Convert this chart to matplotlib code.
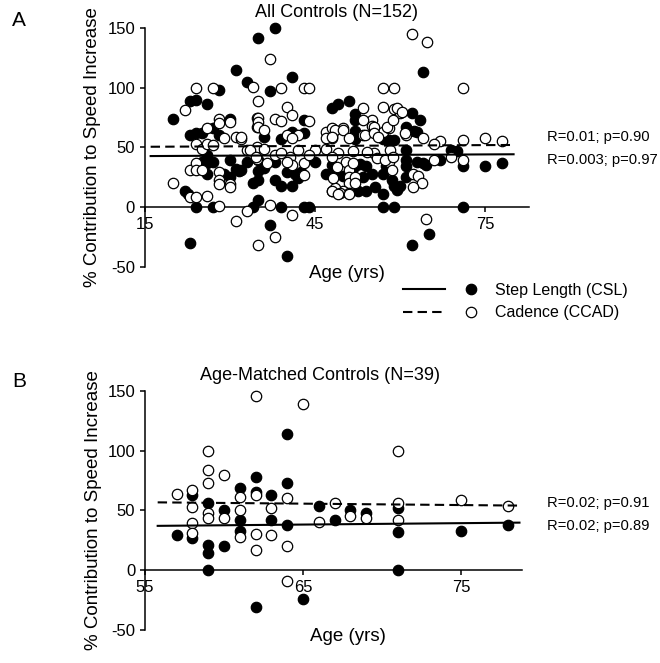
import numpy as np
import matplotlib
matplotlib.use("Agg")
import matplotlib.pyplot as plt
from matplotlib.lines import Line2D
from matplotlib.legend_handler import HandlerTuple

plt.rcParams['font.family'] = ['Liberation Sans', 'DejaVu Sans']
plt.rcParams['axes.unicode_minus'] = False

# ---- panel A: all controls (age, % contribution) ----
a_csl = [(20, 74), (22, 13), (22.5, 11), (23, 89), (23, 60), (23, -30), (24, 90), (24, 62), (24, 0),
         (25, 62), (25, 38), (26, 86), (26, 44), (26, 37), (26, 28), (27, 66), (27, 38), (27, 0),
         (28, 98), (28, 60), (29, 28), (30, 74), (30, 39), (30, 25), (31, 115), (31, 32), (31.5, 30),
         (32, 31), (33, 105), (33, 38), (34, 20), (34, 0), (35, 142), (35, 6), (35, 23), (35, 39),
         (35, 30), (36, 59), (36, 33), (37, 97), (37, -15), (38, 150), (38, 38), (38, 23), (39, 57),
         (39, 18), (39, 0), (40, 29), (40, -41), (41, 109), (41, 63), (41, 18), (41.5, 28), (42, 24),
         (42.5, 29), (43, 62), (43, 73), (43, 0), (44, 0), (45, 38), (47, 28), (48, 83), (48, 60),
         (48, 35), (48.5, 28), (49, 86), (50, 26), (51, 89), (51.5, 35), (51.5, 31), (52, 78), (52, 73),
         (52, 64), (52, 57), (52, 34), (52.5, 13), (53, 36), (53.5, 25), (54, 34), (54, 13), (55, 28),
         (55.5, 17), (57, 57), (57, 28), (57, 11), (57, 0), (57.5, 34), (58, 56), (58.5, 23), (59, 56),
         (59, 18), (59, 0), (59.5, 14), (60, 18), (61, 67), (61, 48), (61, 39), (61, 34), (61, 25),
         (62, 79), (62, -32), (62.5, 64), (63, 63), (63, 38), (63.5, 73), (64, 113), (64, 37),
         (64.5, 35), (65, -23), (67, 39), (69, 48), (70, 47), (71, 34), (71, 0), (75, 34), (78, 37)]
a_ccad = [(20, 20), (22, 81), (23, 31), (23, 8.5), (24, 100), (24, 53), (24, 37), (24, 31), (24, 8.5),
          (25, 31), (25, 49), (26, 66), (26, 53), (26, 9), (27, 100), (27, 52), (28, 74), (28, 70),
          (28, 29), (28, 22.5), (28, 19), (28, 1), (29, 57.5), (30, 71), (30, 19), (31, 59), (31, -11.5),
          (30, 17), (32, 57), (33, 48), (34.7, 40), (34.7, 50), (34.7, 75), (34.7, 67),
          (37, 124), (34, 101), (39, 100), (43, 100), (44, 100), (35, 89), (40, 84), (35, 75), (35, 71),
          (35, 67), (38, 73.5), (39, 72), (41, 77), (44, 72), (36, 64.5), (32, 59), (40, 60), (42, 60),
          (41, 57.5), (47, 63), (48, 66), (48, 57.5), (47, 57.5), (33.5, 48), (34.5, 41.5), (36.5, 36.5),
          (40.5, 42), (43, 36.5), (45, 48), (47, 49), (41, 35), (43, 27), (48, 13), (37, 1.6), (33, -3),
          (41, -6.5), (38, -25), (35, -32), (38, 44), (39, 45), (42, 48), (44, 44), (36, 49), (40, 38),
          (62, 145), (64.7, 138), (57, 100), (59, 100), (53.5, 83), (57, 84), (59, 82), (60, 79),
          (55, 73), (55, 68), (55.3, 64), (50, 66), (53.5, 73), (57, 63), (58, 66), (61, 60), (64, 58),
          (53.5, 60), (49, 45), (55.3, 45), (58, 38), (58.5, 31), (62.3, 28), (63.2, 26), (63.8, 20),
          (62.3, 17), (51.7, 47), (50.5, 38), (51, 31), (51, 25), (51, 20), (50, 13), (51, 11.5),
          (48.5, 15.6), (49.4, 11.5), (48.2, 24), (64.5, -10),
          (48.5, 64.5), (47.9, 58.9), (50, 64.5), (50.9, 57.5), (53.8, 60.3), (55.3, 67), (55.3, 61.7),
          (56.1, 59), (57.6, 67), (58.8, 72.6), (59.4, 82.6), (60.3, 79.8), (60.9, 61.7), (58.2, 47.7),
          (47.9, 42.2), (48.8, 33.8), (51.7, 36.6), (52, 25.4), (52, 19.8), (54.1, 46.4), (55.9, 40.8),
          (57.3, 39.4), (58.8, 42.2), (47.9, 13.6), (49.1, 10.8), (50.9, 10.8),
          (71, 100), (67, 55.5), (71, 56), (75, 58), (78, 55), (66, 39), (69, 41.5), (71, 39), (66, 53)]

# fitted lines
a_fit_x = [16, 80]
a_fit_csl = [42.7, 44.2]
a_fit_ccad = [50.5, 52.0]

# ---- panel B: age-matched controls ----
b_csl = [(57, 29), (58, 63), (58, 27), (59, 56), (59, 21), (59, 14), (59, 0), (60, 50), (60, 20),
         (61, 69), (61, 42), (61, 33), (62, 78), (62, 65), (62, -31), (63, 63), (63, 42), (64, 114),
         (64, 73), (64, 38), (65, -24), (66, 54), (67, 42), (68, 50), (69, 48), (71, 52), (71, 32),
         (71, 0), (75, 33), (78, 38)]
b_ccad = [(57, 64), (58, 67), (58, 53), (58, 39), (58, 31), (59, 100), (59, 84), (59, 73), (59, 48),
          (59, 44), (60, 80), (60, 44), (61, 61), (61, 50), (61, 28), (62, 146), (62, 63), (62, 30),
          (62, 17), (63, 52), (63, 29), (64, 60), (64, 20), (64, -9), (65, 139), (66, 40), (67, 56),
          (68, 45), (69, 44), (71, 100), (71, 56), (71, 42), (75, 59), (78, 54)]
b_fit_x = [55.8, 78.7]
b_fit_csl = [37.0, 39.7]
b_fit_ccad = [56.7, 54.0]

yticks = [-50, 0, 50, 100, 150]
ms = 7.5
dash = (0, (4.5, 2.5))

fig = plt.figure(figsize=(6.6, 6.63), dpi=100)


def panel(rect, xlim, xticks, csl, ccad, fx, fcsl, fccad, title, tx, stats):
    ax = fig.add_axes(rect)
    ax.set_xlim(*xlim)
    ax.set_ylim(-55, 155)
    c = np.array(csl)
    o = np.array(ccad)
    ax.plot(c[:, 0], c[:, 1], 'o', ms=ms, mfc='k', mec='k', mew=0.9, zorder=2, clip_on=False)
    ax.plot(o[:, 0], o[:, 1], 'o', ms=ms, mfc='white', mec='k', mew=0.9, zorder=3, clip_on=False)
    ax.plot(fx, fcsl, color='k', lw=1.5, zorder=4)
    ax.plot(fx, fccad, color='k', lw=1.5, ls=dash, zorder=4)

    for s in ('top', 'right'):
        ax.spines[s].set_visible(False)
    ax.spines['left'].set_position(('data', xticks[0]))
    ax.spines['left'].set_bounds(-50, 150)
    ax.spines['bottom'].set_position(('data', 0))
    ax.spines['bottom'].set_bounds(xticks[0], xlim[1] - 0.6 * (xlim[1] - xticks[-1]) / 2)
    for s in ('left', 'bottom'):
        ax.spines[s].set_linewidth(1.1)
    ax.set_xticks(xticks)
    ax.set_yticks(yticks)
    ax.tick_params(direction='out', length=3.6, width=1.1, labelsize=12)
    ax.set_ylabel('% Contribution to Speed Increase', fontsize=13.5)
    ax.yaxis.set_label_coords(-0.095, 0.5)
    ax.text(0.509, -0.002, 'Age (yrs)', transform=ax.transAxes, fontsize=13.5,
            ha='center', va='center')
    ax.text(tx, 1.04, title, transform=ax.transAxes, fontsize=13, ha='center', va='center')
    for yv, s in stats:
        ax.text(xlim[1] - 0.15 * (xlim[1] - xlim[0]) / 72, yv, s, fontsize=10.6,
                ha='left', va='center', clip_on=False)
    return ax


axA = panel([139.3 / 660, (663 - 272.6) / 663, 408.3 / 660, 250.5 / 663], (14, 86), [15, 45, 75],
            a_csl, a_ccad, a_fit_x, a_fit_csl, a_fit_ccad, 'All Controls (N=152)', 0.482,
            [(58.7, 'R=0.01; p=0.90'), (39.4, 'R=0.003; p=0.97')])
axB = panel([140.3 / 660, (663 - 635.6) / 663, 407.6 / 660, 250.5 / 663], (54.7, 80.5), [55, 65, 75],
            b_csl, b_ccad, b_fit_x, b_fit_csl, b_fit_ccad, 'Age-Matched Controls (N=39)', 0.441,
            [(56.2, 'R=0.02; p=0.91'), (36.9, 'R=0.02; p=0.89')])

fig.text(12 / 660, 1 - 20 / 663, 'A', fontsize=15, va='center')
fig.text(12 / 660, 1 - 382 / 663, 'B', fontsize=15, va='center')

solid = Line2D([], [], color='k', lw=1.5)
dashed = Line2D([], [], color='k', lw=1.5, ls=dash)
fdot = Line2D([], [], ls='none', marker='o', ms=ms, mfc='k', mec='k', mew=0.9)
odot = Line2D([], [], ls='none', marker='o', ms=ms, mfc='white', mec='k', mew=0.9)
fig.legend([(solid, fdot), (dashed, odot)], ['Step Length (CSL)', 'Cadence (CCAD)'],
           handler_map={tuple: HandlerTuple(ndivide=None, pad=0.3)},
           handlelength=5.6, handletextpad=0.15, labelspacing=0.45, fontsize=11.5,
           frameon=False, borderpad=0, borderaxespad=0,
           loc='upper left', bbox_to_anchor=(403 / 660, 1 - 283 / 663))

fig.savefig('out.png', dpi=100)
